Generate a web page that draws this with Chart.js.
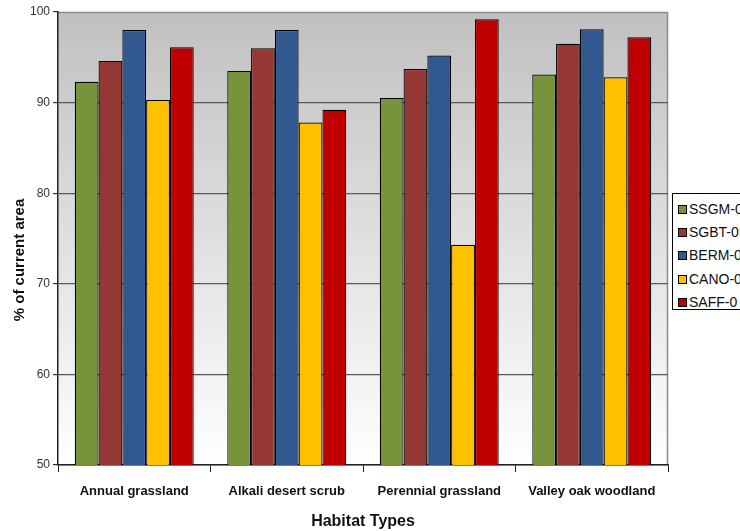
<!DOCTYPE html>
<html>
<head>
<meta charset="utf-8">
<script src="https://cdn.jsdelivr.net/npm/chart.js@4.4.1/dist/chart.umd.min.js"></script>
<style>
  body { margin:0; background:#fff; }
  #wrap { position:relative; width:740px; height:531px; }
  #legend { position:absolute; left:672px; top:193px; width:80px; height:117px; border:1px solid #000; background:#fff;
    box-sizing:border-box; font:14px "Liberation Sans", Arial, sans-serif; padding-top:4px; color:#111; }
  #legend div { height:23.2px; line-height:23.2px; white-space:nowrap; }
  #legend span { display:inline-block; width:7px; height:7px; border:1px solid #000; margin:0 2px 0 5px; }
</style>
</head>
<body>
<div id="wrap">
  <canvas id="c" width="740" height="531"></canvas>
  <div id="legend"></div>
</div>
<script>
// data
const habitats = ['Annual grassland', 'Alkali desert scrub', 'Perennial grassland', 'Valley oak woodland'];
const seriesNames = ['SSGM-0', 'SGBT-0', 'BERM-0', 'CANO-0', 'SAFF-0'];
const ssgm = [92.3, 93.5, 90.5, 93.1];
const sgbt = [94.6, 96.0, 93.7, 96.5];
const berm = [98.0, 98.0, 95.2, 98.1];
const cano = [90.3, 87.8, 74.3, 92.8];
const saff = [96.1, 89.2, 99.2, 97.2];
const yTicks = [50, 60, 70, 80, 90, 100];
const yTitle = '% of current area';

const colors = ['#77933C', '#953735', '#31598F', '#FFC000', '#C00000'];
const values = [ssgm, sgbt, berm, cano, saff];

const font = '"Liberation Sans", Arial, sans-serif';

// gray->white plot background + light top/right frame
const plotBg = {
  id: 'plotBg',
  beforeDraw(chart) {
    const a = chart.chartArea, c = chart.ctx;
    const g = c.createLinearGradient(0, a.top, 0, a.bottom);
    g.addColorStop(0, '#c0c0c0');
    g.addColorStop(1, '#ffffff');
    c.save();
    c.fillStyle = g;
    c.fillRect(a.left, a.top, a.right - a.left, a.bottom - a.top);
    c.strokeStyle = '#8c8c8c';
    c.lineWidth = 1.5;
    c.beginPath();
    c.moveTo(a.left, a.top + 0.5);
    c.lineTo(a.right - 0.5, a.top + 0.5);
    c.lineTo(a.right - 0.5, a.bottom);
    c.stroke();
    c.restore();
  },
  // y title sits a bit below the plot's middle in the original
  afterDraw(chart) {
    const c = chart.ctx;
    c.save();
    c.translate(20, 260);
    c.rotate(-Math.PI / 2);
    c.fillStyle = '#111';
    c.font = 'bold 15px ' + font;
    c.textAlign = 'center';
    c.textBaseline = 'middle';
    c.fillText(yTitle, 0, 0);
    c.restore();
  }
};

const chart = new Chart(document.getElementById('c'), {
  type: 'bar',
  data: {
    labels: habitats,
    datasets: seriesNames.map((n, i) => ({
      label: n,
      data: values[i],
      backgroundColor: colors[i],
      borderColor: '#000',
      borderWidth: 1.2,
      borderSkipped: false,
      barPercentage: 1,
      categoryPercentage: 0.78
    }))
  },
  options: {
    responsive: false,
    animation: false,
    layout: { padding: { left: 0, right: 72, top: 12, bottom: 0 } },
    plugins: { legend: { display: false }, tooltip: { enabled: false } },
    scales: {
      x: {
        afterFit(s) { s.height = 66; },
        grid: { display: true, drawOnChartArea: false, offset: true, tickLength: 7, color: '#222' },
        border: { color: '#222', width: 1.5 },
        ticks: { color: '#111', font: { family: font, size: 13, weight: 'bold' }, padding: 12 },
        title: { display: true, text: 'Habitat Types', color: '#111',
          font: { family: font, size: 16, weight: 'bold' }, padding: { top: 4, bottom: 0 } }
      },
      y: {
        min: 50, max: 100,
        afterFit(s) { s.width = 58; },
        afterBuildTicks(s) { s.ticks = yTicks.map(v => ({ value: v })); },
        grid: {
          color: ctx => (ctx.tick && ctx.tick.value === 100) ? 'rgba(0,0,0,0)' : '#5a5a5a',
          tickColor: '#333', tickLength: 5, lineWidth: 1.2
        },
        border: { color: '#222', width: 1.5 },
        ticks: { color: '#333', font: { family: font, size: 12 }, padding: 3 }
      }
    }
  },
  plugins: [plotBg]
});

// legend built from the series arrays
const leg = document.getElementById('legend');
seriesNames.forEach((n, i) => {
  const d = document.createElement('div');
  d.innerHTML = '<span style="background:' + colors[i] + '"></span>' + n;
  leg.appendChild(d);
});
</script>
</body>
</html>
